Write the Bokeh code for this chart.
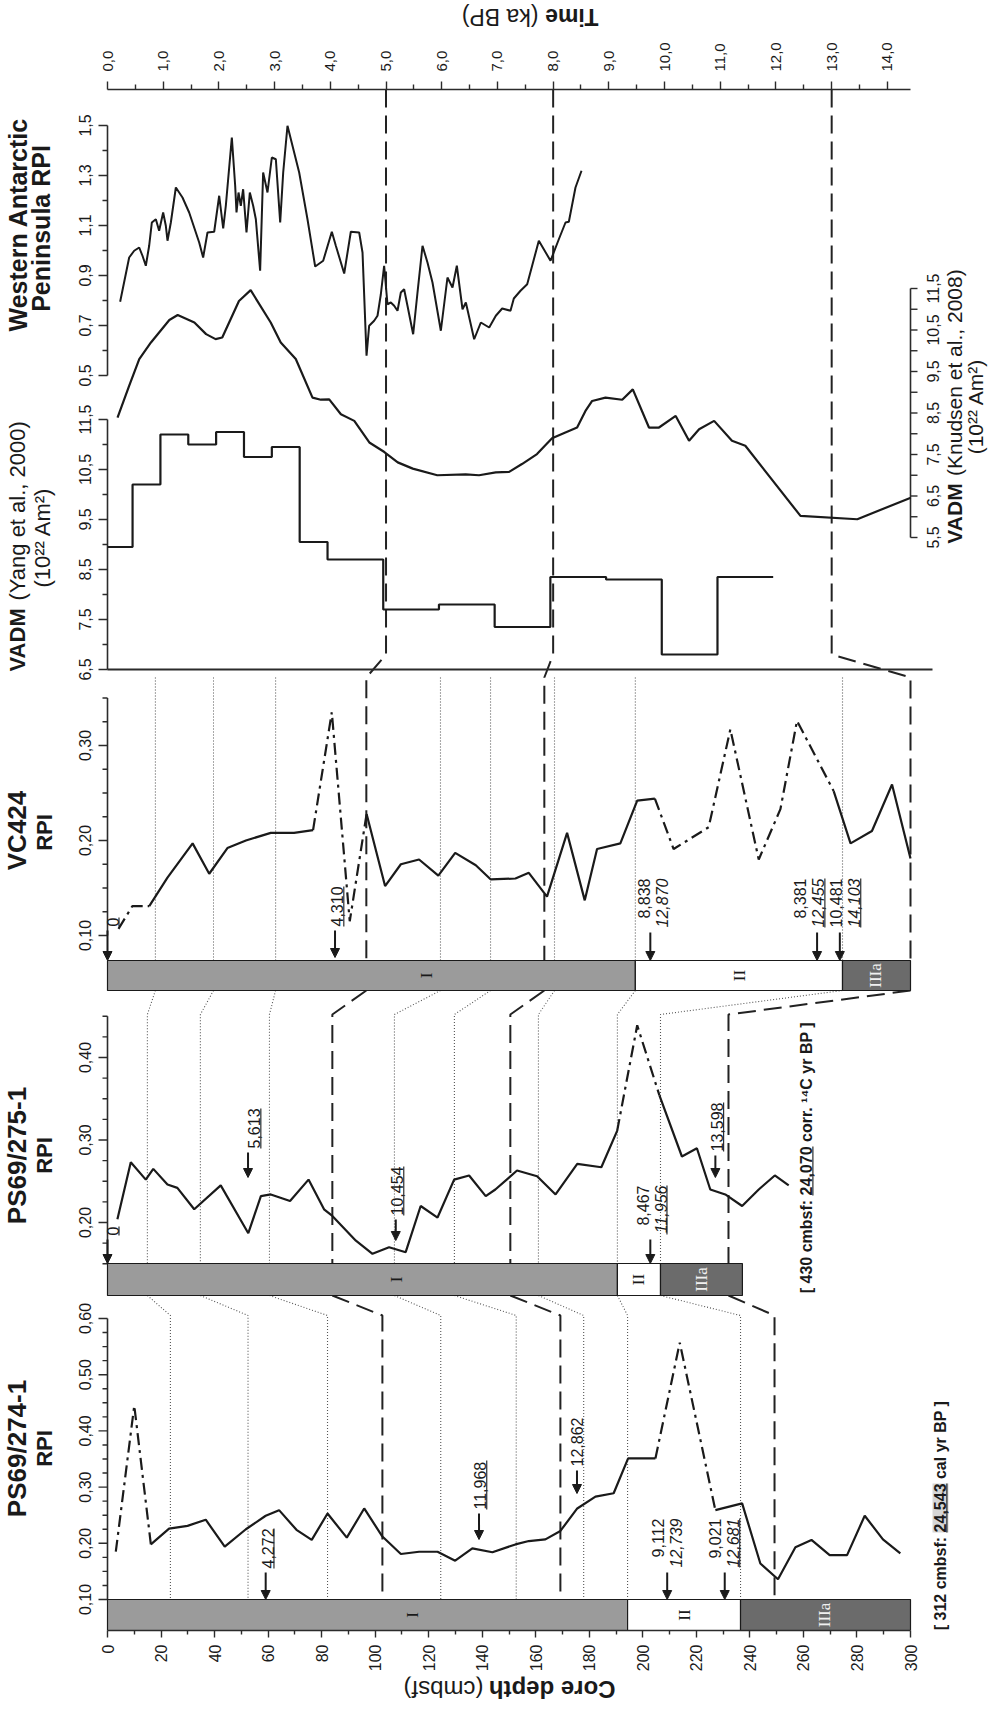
import math
from bokeh.plotting import figure
from bokeh.layouts import column
from bokeh.models import (Range1d, LinearAxis, FixedTicker, Arrow, NormalHead,
                          ColumnDataSource, CustomJSTickFormatter)
from bokeh.core.properties import value
from bokeh.embed import file_html
from bokeh.resources import INLINE

# ============================ DATA ============================
# PS69/274-1 RPI against core depth (cmbsf)
depth_274 = [3.1, 10.0, 16.2, 23.0, 29.9, 36.7, 43.8, 51.7, 59.1, 64.1, 70.6, 76.3,
             82.2, 89.4, 95.9, 102.7, 109.6, 116.4, 123.3, 129.9, 136.3, 143.8, 152.4,
             157.4, 163.6, 169.2, 175.5, 182.3, 189.1, 194.5, 204.7, 213.8, 227.1, 237.1,
             243.9, 250.5, 257.0, 263.0, 269.8, 276.3, 282.9, 289.7, 296.2]
rpi_274 = [0.185, 0.445, 0.198, 0.226, 0.231, 0.242, 0.194, 0.225, 0.249, 0.259, 0.224, 0.206,
           0.253, 0.210, 0.262, 0.212, 0.181, 0.185, 0.185, 0.169, 0.191, 0.184, 0.198,
           0.204, 0.207, 0.222, 0.262, 0.283, 0.289, 0.351, 0.351, 0.557, 0.259, 0.271,
           0.164, 0.136, 0.193, 0.206, 0.179, 0.179, 0.249, 0.207, 0.182]
interp_274 = [(3.1, 16.2), (204.7, 227.1)]          # dash-dot stretches

# PS69/275-1 RPI
depth_275 = [3.7, 8.7, 14.3, 17.1, 22.4, 26.1, 32.4, 42.3, 52.6, 57.3,
             61.0, 68.2, 75.1, 80.9, 84.0, 92.8, 99.0, 105.2, 111.4, 117.0,
             123.3, 129.5, 135.1, 141.3, 144.9, 153.0, 160.5, 167.4, 175.5, 184.5,
             190.4, 197.9, 206.2, 214.6, 220.2, 225.2, 230.8, 237.1, 243.3, 249.3, 254.5]
rpi_275 = [0.204, 0.273, 0.252, 0.265, 0.246, 0.242, 0.216, 0.245, 0.187, 0.232,
           0.234, 0.226, 0.252, 0.216, 0.208, 0.178, 0.162, 0.170, 0.164, 0.220,
           0.206, 0.252, 0.257, 0.232, 0.240, 0.263, 0.256, 0.234, 0.271, 0.267,
           0.311, 0.439, 0.354, 0.280, 0.290, 0.240, 0.234, 0.220, 0.240, 0.257, 0.245]
interp_275 = [(190.4, 206.2)]

# VC424 RPI
depth_vc = [4.1, 9.3, 15.6, 22.4, 31.8, 38.0, 44.8, 51.7, 61.0, 69.7,
            76.8, 83.8, 90.5, 96.8, 103.7, 109.6, 116.4, 123.6, 129.9, 137.6,
            143.2, 152.4, 157.4, 164.2, 171.7, 178.3, 182.9, 191.6, 197.9, 204.5,
            211.5, 224.6, 232.7, 243.3, 251.4, 257.6, 271.3, 277.6, 285.6, 293.1, 300.0]
rpi_vc = [0.107, 0.131, 0.131, 0.161, 0.197, 0.165, 0.192, 0.200, 0.208, 0.208,
          0.211, 0.335, 0.115, 0.228, 0.152, 0.175, 0.180, 0.163, 0.187, 0.174,
          0.159, 0.160, 0.166, 0.141, 0.208, 0.137, 0.191, 0.197, 0.242, 0.244,
          0.191, 0.214, 0.317, 0.180, 0.233, 0.326, 0.252, 0.197, 0.210, 0.259, 0.181]
interp_vc = [(4.1, 15.6), (76.8, 96.8), (204.5, 271.3)]

# Western Antarctic Peninsula RPI against time (ka BP)
time_wap = [0.227, 0.389, 0.479, 0.569, 0.628, 0.688, 0.748, 0.796, 0.868, 0.927, 0.999, 1.047,
            1.077, 1.137, 1.227, 1.346, 1.466, 1.526, 1.646, 1.717, 1.795, 1.915, 2.005, 2.077,
            2.124, 2.232, 2.292, 2.316, 2.352, 2.393, 2.435, 2.495, 2.555, 2.615, 2.663, 2.740,
            2.794, 2.872, 2.950, 3.022, 3.100, 3.154, 3.231, 3.441, 3.590, 3.728, 3.872, 4.027,
            4.099, 4.249, 4.368, 4.518, 4.578, 4.650, 4.697, 4.787, 4.847, 4.907, 4.966, 5.026,
            5.086, 5.146, 5.206, 5.266, 5.325, 5.385, 5.487, 5.565, 5.655, 5.744, 5.834, 5.984,
            6.103, 6.193, 6.271, 6.373, 6.433, 6.582, 6.702, 6.852, 6.971, 7.085, 7.234, 7.294,
            7.414, 7.534, 7.743, 7.953, 8.102, 8.222, 8.282, 8.401, 8.509]
rpi_wap = [0.795, 0.972, 0.999, 1.012, 0.979, 0.939, 1.019, 1.112, 1.125, 1.079, 1.152, 1.099,
           1.039, 1.112, 1.252, 1.212, 1.152, 1.112, 1.032, 0.972, 1.072, 1.075, 1.219, 1.088,
           1.179, 1.452, 1.259, 1.152, 1.232, 1.179, 1.245, 1.072, 1.232, 1.179, 1.125, 0.919,
           1.312, 1.232, 1.372, 1.365, 1.112, 1.312, 1.499, 1.312, 1.125, 0.936, 0.959, 1.075,
           1.019, 0.908, 1.075, 1.072, 0.992, 0.579, 0.699, 0.719, 0.739, 0.825, 0.939, 0.785,
           0.792, 0.779, 0.759, 0.832, 0.845, 0.779, 0.665, 0.832, 1.019, 0.952, 0.872, 0.679,
           0.892, 0.852, 0.939, 0.765, 0.792, 0.645, 0.712, 0.692, 0.739, 0.768, 0.759, 0.808,
           0.839, 0.865, 1.039, 0.959, 1.045, 1.112, 1.115, 1.252, 1.319]

# VADM, Knudsen et al. (2008), 10^22 Am^2
time_knud = [0.18, 0.39, 0.57, 0.78, 1.11, 1.26, 1.56, 1.77, 1.94, 2.06, 2.36, 2.57, 2.93, 3.11,
             3.38, 3.68, 3.83, 3.98, 4.19, 4.43, 4.70, 4.97, 5.21, 5.48, 5.92, 6.43, 6.67, 6.97,
             7.21, 7.44, 7.71, 7.98, 8.22, 8.43, 8.58, 8.70, 8.94, 9.24, 9.43, 9.72, 9.90, 10.20,
             10.44, 10.62, 10.89, 11.21, 11.45, 12.44, 13.46, 14.42]
vadm_knud = [8.39, 9.16, 9.80, 10.20, 10.74, 10.86, 10.68, 10.40, 10.28, 10.32, 11.20, 11.46, 10.68, 10.20,
             9.80, 8.87, 8.82, 8.83, 8.47, 8.31, 7.79, 7.56, 7.31, 7.16, 7.00, 7.02, 7.00, 7.07,
             7.08, 7.27, 7.51, 7.89, 8.03, 8.15, 8.55, 8.79, 8.87, 8.82, 9.07, 8.15, 8.15, 8.43,
             7.83, 8.11, 8.31, 7.83, 7.71, 6.02, 5.94, 6.46]

# VADM, Yang et al. (2000): bin edges (ka BP) and values
yang_edges = [0.0, 0.45, 0.95, 1.45, 1.95, 2.45, 2.95, 3.45, 3.95, 4.95, 5.95, 6.95, 7.95,
              8.95, 9.95, 10.95, 11.95]
vadm_yang = [8.95, 10.2, 11.2, 11.0, 11.25, 10.75, 10.95, 9.05, 8.7, 7.7, 7.8, 7.35, 8.35,
             8.3, 6.8, 8.35]

# lithological units (boundaries in cmbsf)
unit_names = ["I", "II", "IIIa"]
units_274 = [0.0, 194.3, 236.5, 300.0]
units_275 = [0.0, 190.5, 206.6, 237.2]
units_vc = [0.0, 197.2, 274.6, 300.0]
unitlab_274 = [114.0, 215.4, 268.0]
unitlab_275 = [108.0, 198.5, 222.0]
unitlab_vc = [119.0, 236.0, 287.0]

# correlation tie points (cmbsf / ka BP)
tie_dot_vc = [17.9, 39.6, 62.8, 124.4, 143.1, 167.0, 197.2, 274.6]
tie_dot_275 = [14.9, 34.7, 60.5, 107.2, 129.6, 161.0, 190.5, 206.6]
tie_dot_274 = [23.5, 52.5, 82.2, 124.5, 152.7, 177.9, 194.3, 236.5]
tie_time = [5.0, 8.0, 13.0]
tie_dash_vc = [96.7, 163.2, 300.0]
tie_dash_275 = [84.0, 150.5, 232.0]
tie_dash_274 = [102.7, 169.2, 249.2]

# dated levels: arrow depth, label depth, label lines, underline flags
ann274_depth = [59.1, 138.8, 175.4, 209.1, 230.6]
ann274_lab = [59.8, 139.3, 175.4, 205.5, 227.1]
ann274_l1 = ["4,272", "11,968", "12,862", "9,112", "9,021"]
ann274_l2 = ["", "", "", "12,739", "12,681"]
ann274_u1 = [True, True, False, False, False]
ann274_u2 = [False, False, False, False, True]

ann275_depth = [0.0, 52.5, 107.7, 202.8, 227.1]
ann275_lab = [1.9, 54.9, 108.3, 199.9, 227.8]
ann275_l1 = ["0", "5,613", "10,454", "8,467", "13,598"]
ann275_l2 = ["", "", "", "11,956", ""]
ann275_u1 = [True, True, True, False, True]
ann275_u2 = [False, False, False, True, False]

annvc_depth = [0.0, 85.0, 202.8, 265.1, 273.6]
annvc_lab = [1.9, 85.9, 200.6, 258.9, 272.3]
annvc_l1 = ["0", "4,310", "8,838", "8,381", "10,481"]
annvc_l2 = ["", "", "12,870", "12,455", "14,103"]
annvc_u1 = [True, True, False, False, False]
annvc_u2 = [False, False, False, True, True]

# ticks
depth_ticks = [float(v) for v in range(0, 301, 20)]
depth_tick_labels = [str(v) for v in range(0, 301, 20)]
depth_minor = [float(v) for v in range(10, 300, 20)]
time_ticks = [float(v) for v in range(15)]
time_tick_labels = ["%d,0" % v for v in range(15)]
time_minor = [v + 0.5 for v in range(14)]
wap_ticks = [0.5, 0.7, 0.9, 1.1, 1.3, 1.5]
wap_labels = ["0,5", "0,7", "0,9", "1,1", "1,3", "1,5"]
wap_minor = [0.6, 0.8, 1.0, 1.2, 1.4]
yang_ticks = [6.5, 7.5, 8.5, 9.5, 10.5, 11.5]
yang_labels = ["6,5", "7,5", "8,5", "9,5", "10,5", "11,5"]
yang_minor = [7.0, 8.0, 9.0, 10.0, 11.0]
knud_ticks = [5.5, 6.5, 7.5, 8.5, 9.5, 10.5, 11.5]
knud_labels = ["5,5", "6,5", "7,5", "8,5", "9,5", "10,5", "11,5"]
knud_minor = [6.0, 7.0, 8.0, 9.0, 10.0, 11.0]
vc_ticks = [0.10, 0.20, 0.30]
vc_labels = ["0,10", "0,20", "0,30"]
vc_minor = [0.125, 0.15, 0.175, 0.225, 0.25, 0.275, 0.325, 0.35]
p275_ticks = [0.20, 0.30, 0.40]
p275_labels = ["0,20", "0,30", "0,40"]
p275_minor = [0.15, 0.175, 0.225, 0.25, 0.275, 0.325, 0.35, 0.375, 0.425, 0.45]
p274_ticks = [0.10, 0.20, 0.30, 0.40, 0.50, 0.60]
p274_labels = ["0,10", "0,20", "0,30", "0,40", "0,50", "0,60"]
p274_minor = [0.125, 0.15, 0.175, 0.225, 0.25, 0.275, 0.325, 0.35, 0.375,
              0.425, 0.45, 0.475, 0.525, 0.55, 0.575]

# ============================ LAYOUT ============================
PX0, PX300 = 115.0, 918.0          # page x of depth 0 / depth 300
FR_L, FR_R = 8.0, 999.0
FR_T, FR_B = 97.0, 1638.0
TOP_H, BOT_H = 32, 28               # strips holding the two axis titles
KPX = (PX300 - PX0) / 300.0
T_AT_300 = 14.415
TPX = (PX300 - PX0) / T_AT_300


def dx(px):
    return (px - PX0) / KPX


def tx(px):
    return (px - PX0) / TPX


def t2d(t):
    return t * TPX / KPX


SCALES = {"wap": (1.5, 133.0, 250.0), "knud": (11.5, 296.0, 41.5), "yang": (11.5, 427.0, 50.0),
          "vc": (0.10, 943.0, 950.0), "p275": (0.20, 1230.0, 825.0), "p274": (0.10, 1607.0, 562.0)}


def vrange(v0, y0, ppu):
    return Range1d(start=v0 - (FR_B - y0) / ppu, end=v0 + (y0 - FR_T) / ppu)


Y_TIME_END, Y_VC_TOP = 662.0, 685.0
Y_VC_BT, Y_VC_BB = 968.0, 998.0
Y_275_TOP, Y_275_BT, Y_275_BB = 1022.0, 1271.0, 1303.0
Y_274_TOP, Y_274_BT, Y_274_BB = 1323.0, 1607.0, 1638.0

SANS, SERIF = "Liberation Sans", "Liberation Serif"
INK = "#1a1a1a"
AXC = "#2b2b2b"
ROT = math.pi / 2
UNIT_COLORS = ["#9b9b9b", "#ffffff", "#6b6b6b"]
UNIT_TEXT = [INK, INK, "#f0f0f0"]

AR = {' ': 278, '(': 333, ')': 333, ',': 278, '-': 333, '.': 278, '/': 278, ':': 278, '[': 278,
      ']': 278, 'A': 667, 'B': 667, 'C': 722, 'D': 722, 'I': 278, 'K': 667, 'M': 833, 'P': 667,
      'R': 722, 'S': 667, 'T': 611, 'V': 667, 'W': 944, 'Y': 667, 'a': 556, 'b': 556, 'c': 500,
      'd': 556, 'e': 556, 'f': 278, 'g': 556, 'h': 556, 'i': 222, 'k': 500, 'l': 222, 'm': 833,
      'n': 556, 'o': 556, 'p': 556, 'r': 333, 's': 500, 't': 278, 'u': 556, 'y': 500,
      '\u00b2': 333, '\u00b9': 333, '\u2074': 333}
AB = {' ': 278, '(': 333, ')': 333, ',': 278, '-': 333, '.': 278, '/': 278, ':': 333, '[': 333,
      ']': 333, 'A': 722, 'B': 722, 'C': 722, 'D': 722, 'I': 278, 'K': 722, 'M': 833, 'P': 667,
      'R': 722, 'S': 667, 'T': 611, 'V': 667, 'W': 944, 'Y': 667, 'a': 556, 'b': 611, 'c': 556,
      'd': 611, 'e': 556, 'f': 333, 'i': 278, 'k': 556, 'l': 278, 'm': 889, 'n': 611, 'o': 611,
      'p': 611, 'r': 389, 's': 556, 't': 333, 'u': 611, 'y': 556,
      '\u00b2': 333, '\u00b9': 333, '\u2074': 333}


def tw(s, size, bold=False):
    tab = AB if bold else AR
    return sum(tab.get(c, 556) for c in s) / 1000.0 * size


# ============================ FIGURES ============================
XR = Range1d(dx(FR_L), dx(FR_R))
MAIN_TOP = 8 + TOP_H
MAIN_BOT = 1712 - BOT_H

p = figure(width=991, height=int(MAIN_BOT - MAIN_TOP), x_range=XR, y_range=Range1d(FR_B, FR_T),
           output_backend="svg", toolbar_location=None, x_axis_location="below", y_axis_location=None,
           min_border_left=0, min_border_right=0, min_border_top=int(FR_T - MAIN_TOP),
           min_border_bottom=int(MAIN_BOT - FR_B))
p.outline_line_color = None
p.grid.visible = False
p.background_fill_color = "white"
p.border_fill_color = "white"
p.extra_x_ranges = {"time": Range1d(tx(FR_L), tx(FR_R))}
p.extra_y_ranges = {k: vrange(*v) for k, v in SCALES.items()}


def strip(y_top, h):
    f = figure(width=991, height=h, x_range=XR, y_range=Range1d(y_top + h, y_top),
               output_backend="svg", toolbar_location=None, x_axis_location=None, y_axis_location=None,
               min_border=0, min_border_left=0, min_border_right=0, min_border_top=0, min_border_bottom=0)
    f.outline_line_color = None
    f.grid.visible = False
    return f


top_strip = strip(8, TOP_H)
bot_strip = strip(MAIN_BOT, BOT_H)


def fmt(ticks, labels):
    return CustomJSTickFormatter(args=dict(t=ticks, l=labels),
                                 code="const i = t.findIndex(v => Math.abs(v - tick) < 1e-6); return i < 0 ? '' : l[i];")


def style_axis(ax, tick_out, minor_out, standoff, size):
    ax.axis_line_color = AXC
    ax.axis_line_width = 1.6
    ax.major_tick_line_color = AXC
    ax.major_tick_line_width = 1.4
    ax.minor_tick_line_color = AXC
    ax.minor_tick_line_width = 1.4
    ax.major_tick_in = 0
    ax.major_tick_out = tick_out
    ax.minor_tick_in = 0
    ax.minor_tick_out = minor_out
    ax.major_label_orientation = ROT
    ax.major_label_standoff = standoff
    ax.major_label_text_font = SANS
    ax.major_label_text_font_size = "%dpx" % size
    ax.major_label_text_color = INK


dax = p.xaxis[0]
dax.bounds = (0, 300)
dax.ticker = FixedTicker(ticks=depth_ticks, minor_ticks=depth_minor)
dax.formatter = fmt(depth_ticks, depth_tick_labels)
style_axis(dax, 7, 4, 7, 16)

tax = LinearAxis(x_range_name="time", bounds=(0, T_AT_300),
                 ticker=FixedTicker(ticks=time_ticks, minor_ticks=time_minor),
                 formatter=fmt(time_ticks, time_tick_labels))
style_axis(tax, 8, 5, 10, 15)
p.add_layout(tax, "above")


def txt(x, y, s, size, bold=False, italic=False, angle=ROT, align="center", baseline="middle",
        color=INK, font=SANS, fig=None, **kw):
    fig = fig or p
    style = "bold italic" if (bold and italic) else ("bold" if bold else ("italic" if italic else "normal"))
    fig.text(x=[x], y=[y], text=[s], angle=angle, text_font=value(font), text_font_size="%dpx" % size,
             text_font_style=style, text_align=align, text_baseline=baseline, text_color=color, **kw)


# ---------------- tie lines ----------------
dot_xs, dot_ys = [], []
for a, b, c in zip(tie_dot_vc, tie_dot_275, tie_dot_274):
    dot_xs += [[a, a], [a, b, b], [b, c, c]]
    dot_ys += [[Y_VC_TOP, Y_VC_BT], [Y_VC_BB, Y_275_TOP, Y_275_BT], [Y_275_BB, Y_274_TOP, Y_274_BT]]
p.multi_line(dot_xs, dot_ys, line_color="#555555", line_width=1.1, line_dash="1 2")

dash_xs, dash_ys = [], []
for t, a, b, c in zip(tie_time, tie_dash_vc, tie_dash_275, tie_dash_274):
    td = t2d(t)
    dash_xs += [[td, td, a, a], [a, b, b], [b, c, c]]
    dash_ys += [[FR_T, Y_TIME_END, Y_VC_TOP, Y_VC_BT], [Y_VC_BB, Y_275_TOP, Y_275_BT],
                [Y_275_BB, Y_274_TOP, Y_274_BT]]
p.multi_line(dash_xs, dash_ys, line_color="#222222", line_width=2.0, line_dash="18 8")

# ---------------- value axes drawn on the left of each panel ----------------
TICK_MAJ, TICK_MIN = 9 / KPX, 5 / KPX
LBL_X = dx(92)


def left_axis(rng, lo, hi, majors, labels, minors):
    p.segment(x0=[0], y0=[lo], x1=[0], y1=[hi], y_range_name=rng, line_color=AXC, line_width=1.6)
    p.segment(x0=[0] * len(majors), y0=majors, x1=[-TICK_MAJ] * len(majors), y1=majors,
              y_range_name=rng, line_color=AXC, line_width=1.4)
    p.segment(x0=[0] * len(minors), y0=minors, x1=[-TICK_MIN] * len(minors), y1=minors,
              y_range_name=rng, line_color=AXC, line_width=1.4)
    p.text(x=[LBL_X] * len(majors), y=majors, text=labels, angle=ROT, text_font=value(SANS),
           text_font_size="16px", text_align="center", text_baseline="middle", text_color=INK,
           y_range_name=rng)


left_axis("wap", 0.5, 1.5, wap_ticks, wap_labels, wap_minor)
left_axis("yang", 6.5, 11.5, yang_ticks, yang_labels, yang_minor)
left_axis("vc", 0.10, 0.35, vc_ticks, vc_labels, vc_minor)
left_axis("p275", 0.15, 0.45, p275_ticks, p275_labels, p275_minor)
left_axis("p274", 0.10, 0.60, p274_ticks, p274_labels, p274_minor)

# Knudsen axis on the right edge of the time panel
kt = knud_ticks + knud_minor
p.segment(x0=[300.0], y0=[5.5], x1=[300.0], y1=[11.5], y_range_name="knud", line_color=AXC, line_width=1.6)
p.segment(x0=[300.0] * len(kt), y0=kt, x1=[300.0 + 7 / KPX] * len(kt), y1=kt, y_range_name="knud",
          line_color=AXC, line_width=1.4)
p.text(x=[dx(940)] * len(knud_ticks), y=knud_ticks, text=knud_labels, angle=ROT, text_font=value(SANS),
       text_font_size="16px", text_align="center", text_baseline="middle", text_color=INK,
       y_range_name="knud")

# Yang baseline (VADM 6.5) across the time panel
p.segment(x0=[0.0], y0=[6.5], x1=[tx(940)], y1=[6.5], x_range_name="time", y_range_name="yang",
          line_color=AXC, line_width=1.8)

# ---------------- lithological bars ----------------
for edges, labs, yt, yb in [(units_vc, unitlab_vc, Y_VC_BT, Y_VC_BB),
                            (units_275, unitlab_275, Y_275_BT, Y_275_BB),
                            (units_274, unitlab_274, Y_274_BT, Y_274_BB)]:
    p.quad(left=edges[:-1], right=edges[1:], top=[yt] * 3, bottom=[yb] * 3,
           fill_color=UNIT_COLORS, line_color=INK, line_width=1.2)
    p.text(x=labs, y=[(yt + yb) / 2] * 3, text=unit_names, angle=ROT, text_font=value(SERIF),
           text_font_size="17px", text_align="center", text_baseline="middle", text_color=UNIT_TEXT)


# ---------------- curves ----------------
def split_runs(xs, ys, spans):
    runs = []
    for i in range(len(xs) - 1):
        a, b = xs[i], xs[i + 1]
        k = any(lo <= a and b <= hi for lo, hi in spans)
        if runs and runs[-1][0] == k:
            runs[-1][1].append(b)
            runs[-1][2].append(ys[i + 1])
        else:
            runs.append((k, [a, b], [ys[i], ys[i + 1]]))
    return [r for r in runs if not r[0]], [r for r in runs if r[0]]


def curve(xs, ys, spans, rng):
    solid, dd = split_runs(xs, ys, spans)
    if solid:
        p.multi_line([r[1] for r in solid], [r[2] for r in solid], y_range_name=rng,
                     line_color=INK, line_width=2.2)
    if dd:
        p.multi_line([r[1] for r in dd], [r[2] for r in dd], y_range_name=rng,
                     line_color=INK, line_width=2.2, line_dash="12 5 3 5")


curve(depth_vc, rpi_vc, interp_vc, "vc")
curve(depth_275, rpi_275, interp_275, "p275")
curve(depth_274, rpi_274, interp_274, "p274")

p.line(time_wap, rpi_wap, x_range_name="time", y_range_name="wap", line_color=INK, line_width=2.0)
p.line(time_knud, vadm_knud, x_range_name="time", y_range_name="knud", line_color=INK, line_width=2.2)
yx, yy = [], []
for i, v in enumerate(vadm_yang):
    yx += [yang_edges[i], yang_edges[i + 1]]
    yy += [v, v]
p.line(yx, yy, x_range_name="time", y_range_name="yang", line_color=INK, line_width=2.2)

# ---------------- dated levels ----------------
AFS = 16
LINE_GAP = 18
UL = 0.4 * AFS / KPX
arr_x, arr_y0, arr_y1 = [], [], []


def underline(x, y0, y1):
    p.segment(x0=[x + UL], y0=[y0], x1=[x + UL], y1=[y1], line_color=INK, line_width=1.1)


def annotate(depths, labs, l1s, l2s, u1s, u2s, tops, bots):
    for d, lx, l1, l2, u1, u2, top, bot in zip(depths, labs, l1s, l2s, u1s, u2s, tops, bots):
        arr_x.append(d)
        arr_y0.append(top)
        arr_y1.append(bot)
        if not l2:
            start = top - 4
            txt(lx, start, l1, AFS, align="left")
            if u1:
                underline(lx, start, start - tw(l1, AFS))
        else:
            w1, w2 = tw(l1, AFS), tw(l2, AFS)
            end = top - 5 - max(w1, w2)
            x2 = lx + LINE_GAP / KPX
            txt(lx, end, l1, AFS, align="right")
            txt(x2, end, l2, AFS, italic=True, align="right")
            if u1:
                underline(lx, end + w1, end)
            if u2:
                underline(x2, end + w2, end)


annotate(ann274_depth, ann274_lab, ann274_l1, ann274_l2, ann274_u1, ann274_u2,
         [1580, 1521, 1478, 1580, 1580], [1607, 1547, 1501, 1607, 1607])
annotate(ann275_depth, ann275_lab, ann275_l1, ann275_l2, ann275_u1, ann275_u2,
         [1247, 1160, 1227, 1247, 1163], [1271, 1185, 1248, 1271, 1185])
annotate(annvc_depth, annvc_lab, annvc_l1, annvc_l2, annvc_u1, annvc_u2,
         [938, 938, 940, 940, 940], [968, 965, 968, 968, 968])

asrc = ColumnDataSource(dict(x=arr_x, y0=arr_y0, y1=arr_y1))
p.add_layout(Arrow(end=NormalHead(size=9, fill_color=INK, line_color=INK, line_width=1),
                   x_start="x", y_start="y0", x_end="x", y_end="y1", source=asrc,
                   line_color=INK, line_width=2))


# ---------------- bracketed notes ----------------
def bracket(xc_px, yc, pre, num, post, highlight=False):
    size = 16
    s = pre + num + post
    W = tw(s, size, True)
    y_start = yc + W / 2
    xc = dx(xc_px)
    n0 = y_start - tw(pre, size, True)
    n1 = n0 - tw(num, size, True)
    if highlight:
        p.quad(left=[xc - 8 / KPX], right=[xc + 8 / KPX], top=[n1], bottom=[n0],
               fill_color="#d6d6d6", line_color=None)
    txt(xc, y_start, s, size, bold=True, align="left")
    underline(xc, n0, n1)


bracket(948, 1523, "[ 312 cmbsf: ", "24,543", " cal yr BP ]", highlight=True)
bracket(814, 1166, "[ 430 cmbsf: ", "24,070", " corr. \u00b9\u2074C yr BP ]")


# ---------------- titles ----------------
def vtitle(xc_px, yc, parts, size):
    total = sum(tw(s, size, b) for s, b in parts)
    y = yc + total / 2
    for s, b in parts:
        lead = len(s) - len(s.lstrip())
        shown = s.lstrip()
        y0 = y - tw(s[:lead], size, b)
        txt(dx(xc_px), y0, shown, size, bold=b, align="left")
        y -= tw(s, size, b)


vtitle(25, 232, [("Western Antarctic", True)], 25)
vtitle(48, 236, [("Peninsula RPI", True)], 25)
vtitle(25, 553, [("VADM", True), (" (Yang et al., 2000)", False)], 22)
vtitle(50, 545, [("(10\u00b2\u00b2 Am\u00b2)", False)], 22)
vtitle(962, 414, [("VADM", True), (" (Knudsen et al., 2008)", False)], 21)
vtitle(983, 414, [("(10\u00b2\u00b2 Am\u00b2)", False)], 21)
vtitle(24, 838, [("VC424", True)], 26)
vtitle(52, 840, [("RPI", True)], 22)
vtitle(24, 1163, [("PS69/275-1", True)], 26)
vtitle(52, 1163, [("RPI", True)], 22)
vtitle(24, 1456, [("PS69/274-1", True)], 26)
vtitle(52, 1456, [("RPI", True)], 22)


def flipped_title(fig, x_right_px, yc, parts, size):
    x = x_right_px
    for s, b in parts:
        lead = len(s) - len(s.lstrip())
        xs = x - tw(s[:lead], size, b)
        txt(dx(xs), yc, s.lstrip(), size, bold=b, angle=math.pi, align="left", fig=fig)
        x -= tw(s, size, b)


flipped_title(top_strip, 606, 24, [("Time", True), (" (ka BP)", False)], 23)
flipped_title(bot_strip, 623, 1697, [("Core depth", True), (" (cmbsf)", False)], 24)

layout = column(top_strip, p, bot_strip, spacing=0)
open("out.html", "w").write(file_html(layout, INLINE))
